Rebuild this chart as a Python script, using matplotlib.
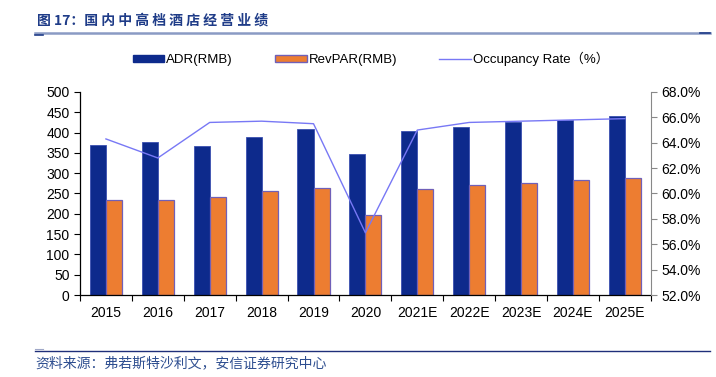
import matplotlib
matplotlib.use("Agg")
import matplotlib.pyplot as plt
import numpy as np
from matplotlib.lines import Line2D

plt.rcParams['font.family'] = ['Liberation Sans', 'Noto Sans CJK SC', 'DejaVu Sans']

categories = ['2015', '2016', '2017', '2018', '2019', '2020', '2021E', '2022E', '2023E', '2024E', '2025E']
adr = [370, 378, 367, 390, 408, 348, 405, 414, 426, 430, 440]
revpar = [235, 235, 241, 256, 264, 197, 262, 271, 277, 283, 288]
occupancy = [64.3, 62.8, 65.6, 65.7, 65.5, 56.9, 65.0, 65.6, 65.7, 65.8, 65.9]
left_ticks = list(range(0, 501, 50))
right_ticks = [52, 54, 56, 58, 60, 62, 64, 66, 68]

fig = plt.figure(figsize=(7.16, 3.77), dpi=100)
ax = fig.add_axes([0.1117, 0.2175, 0.7973, 0.5385])
ax2 = ax.twinx()

x = np.arange(len(categories))
w = 0.31
adr_color = '#0D2A8C'
rev_color = '#ED7D31'
line_color = '#7878F5'

ax.bar(x - w / 2, adr, w, color=adr_color, edgecolor='#3A4FB0', linewidth=0.6, zorder=2)
ax.bar(x + w / 2, revpar, w, color=rev_color, edgecolor='#7060B8', linewidth=0.9, zorder=2)
ax2.plot(x, occupancy, color=line_color, linewidth=1.0, zorder=3)

ax.set_xlim(-0.5, len(categories) - 0.5)
ax.set_ylim(0, 500)
ax.set_yticks(left_ticks)
ax2.set_ylim(52, 68)
ax2.set_yticks(right_ticks)
ax2.set_yticklabels([f'{t:.1f}%' for t in right_ticks])

ax.set_xticks(x)
ax.set_xticklabels(categories)
ax.set_xticks(np.arange(-0.5, len(categories), 1), minor=True)
ax.tick_params(axis='x', which='major', length=0, pad=8, labelsize=10)
ax.tick_params(axis='x', which='minor', length=4, direction='out', width=0.8)
ax.tick_params(axis='y', length=4, direction='out', labelsize=10, width=0.8)
ax2.tick_params(axis='y', length=4, direction='out', labelsize=10, width=0.8, color='#888888')

ax.spines['top'].set_visible(False)
ax2.spines['top'].set_visible(False)
ax.spines['right'].set_visible(False)
ax2.spines['left'].set_visible(False)
ax2.spines['bottom'].set_visible(False)
ax2.spines['right'].set_color('#888888')
ax.spines['left'].set_linewidth(0.9)
ax.spines['bottom'].set_linewidth(0.9)

handles = [
    plt.Rectangle((0, 0), 1, 1, facecolor=adr_color, edgecolor=adr_color),
    plt.Rectangle((0, 0), 1, 1, facecolor=rev_color, edgecolor='#7060B8', linewidth=1.0),
    Line2D([0], [0], color=line_color, linewidth=1.0),
]
labels = ['ADR(RMB)', 'RevPAR(RMB)', 'Occupancy Rate（%）']
fig.legend(handles, labels, loc='center', bbox_to_anchor=(0.518, 0.843), ncol=3, frameon=False,
           fontsize=9.5, handlelength=2.4, handleheight=0.5, handletextpad=0.15, columnspacing=3.2)

title_color = '#1F3C88'
title_text = '图 17：' + ' '.join('国内中高档酒店经营业绩')
fig.text(0.051, 0.947, title_text, fontsize=10, fontweight='bold',
         color=title_color, va='center', ha='left', family=['Noto Sans CJK SC', 'DejaVu Sans'])
fig.add_artist(Line2D([0.049, 0.992], [0.913, 0.913], color='#8A9BC4', linewidth=1.8))
fig.add_artist(Line2D([0.049, 0.060], [0.908, 0.908], color=title_color, linewidth=1.2))
fig.add_artist(Line2D([0.978, 0.992], [0.913, 0.913], color=title_color, linewidth=1.2))

fig.add_artist(Line2D([0.049, 0.992], [0.069, 0.069], color='#1F2F7A', linewidth=1.0))
fig.add_artist(Line2D([0.049, 0.060], [0.074, 0.074], color='#A0A8C8', linewidth=0.8))
fig.text(0.049, 0.037, '资料来源：弗若斯特沙利文，安信证券研究中心', fontsize=10,
         color='#2E4E90', va='center', ha='left', style='italic',
         family=['Noto Sans CJK SC', 'DejaVu Sans'])

fig.savefig('out.png', dpi=100)
